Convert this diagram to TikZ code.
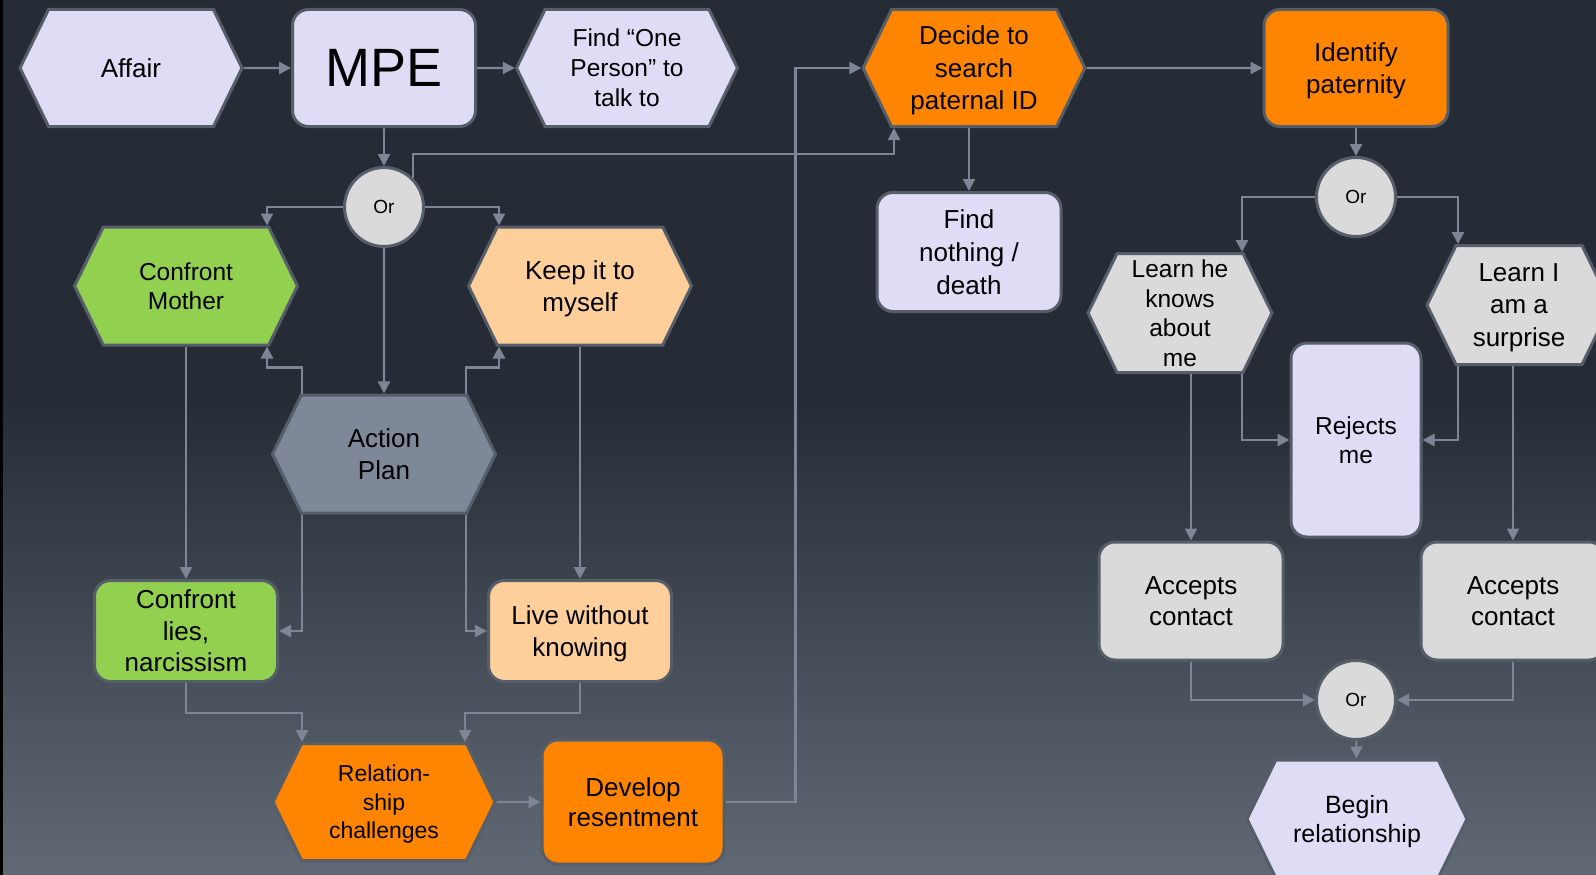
\documentclass[tikz,border=0pt]{standalone}
\usepackage{fontspec}
\setmainfont{Liberation Sans}
\usepackage{tikz}
\usetikzlibrary{arrows.meta}
\usetikzlibrary{shapes.symbols}
\usetikzlibrary{calc}
\definecolor{bgtop}{RGB}{37,44,54}
\definecolor{bgbottom}{RGB}{96,105,116}
\definecolor{edgegray}{RGB}{86,94,106}
\definecolor{linkgray}{RGB}{125,134,148}
\definecolor{lavender}{RGB}{223,221,245}
\definecolor{leafgreen}{RGB}{146,208,80}
\definecolor{peach}{RGB}{254,207,154}
\definecolor{deeporange}{RGB}{255,133,0}
\definecolor{paleg}{RGB}{218,218,218}
\definecolor{slate}{RGB}{127,136,153}
\tikzstyle{box}=[draw=edgegray,line width=3pt,align=center,text=black,inner sep=2pt,text depth=0pt,font=\fontsize{26}{31.5}\selectfont]
\tikzstyle{hexbox}=[box,signal,signal to=west and east,signal pointer angle=128]
\tikzstyle{roundbox}=[box,rectangle,rounded corners=16pt]
\tikzstyle{orgate}=[box,circle,minimum size=79pt,fill=paleg,font=\fontsize{19}{22}\selectfont]
\tikzstyle{link}=[draw=linkgray,line width=2.2pt,-{Triangle[length=12pt,width=12pt]}]

\begin{document}
\begin{tikzpicture}[x=1pt,y=-1pt]
\useasboundingbox (0,0) rectangle (1596,875);
\fill[bgtop] (0,0) rectangle (1596,400);
\shade[top color=bgtop,bottom color=bgbottom] (0,399) rectangle (1596,875);
\fill[black] (0,0) rectangle (2.5,875);

\node [hexbox,fill=lavender,minimum width=222pt,minimum height=117pt] (affair) at (131,68) {Affair};
\node [roundbox,fill=lavender,minimum width=183pt,minimum height=117pt,font=\fontsize{54}{60}\selectfont] (mpe) at (384,68) {MPE};
\node [hexbox,fill=lavender,minimum width=221pt,minimum height=117pt,font=\fontsize{24.5}{30}\selectfont] (findone) at (627,68) {Find “One\\Person” to\\talk to};
\node [hexbox,fill=deeporange,minimum width=222pt,minimum height=117pt,font=\fontsize{26}{32.5}\selectfont] (decide) at (974,68) {Decide to\\search\\paternal ID};
\node [roundbox,fill=deeporange,minimum width=184pt,minimum height=117pt] (identify) at (1356,68) {Identify\\paternity};

\node [orgate] (or1) at (384,207) {Or};
\node [hexbox,fill=leafgreen,minimum width=223pt,minimum height=118pt,font=\fontsize{24.5}{29.5}\selectfont] (cmother) at (186,286) {Confront\\Mother};
\node [hexbox,fill=peach,minimum width=223pt,minimum height=118pt] (keep) at (580,286) {Keep it to\\myself};
\node [hexbox,fill=slate,minimum width=223pt,minimum height=118pt] (action) at (384,454) {Action\\Plan};
\node [roundbox,fill=leafgreen,minimum width=183pt,minimum height=101pt] (clies) at (186,631) {Confront\\lies,\\narcissism};
\node [roundbox,fill=peach,minimum width=183pt,minimum height=101pt] (live) at (580,631) {Live without\\knowing};
\node [hexbox,fill=deeporange,minimum width=222pt,minimum height=117pt,font=\fontsize{23}{28.5}\selectfont] (relat) at (384,802) {Relation-\\ship\\challenges};
\node [roundbox,fill=deeporange,minimum width=182pt,minimum height=124pt,font=\fontsize{26}{30.5}\selectfont] (develop) at (633,802) {Develop\\resentment};

\node [roundbox,fill=lavender,minimum width=184pt,minimum height=119pt,font=\fontsize{26}{33}\selectfont] (nothing) at (969,252) {Find\\nothing /\\death};
\node [orgate] (or2) at (1356,197) {Or};
\node [hexbox,fill=paleg,minimum width=184pt,minimum height=119pt,font=\fontsize{24.5}{29.5}\selectfont] (learnhe) at (1180,313) {Learn he\\knows\\about\\me};
\node [hexbox,fill=paleg,minimum width=184pt,minimum height=119pt,font=\fontsize{26}{32.5}\selectfont] (learni) at (1519,305) {Learn I\\am a\\surprise};
\node [roundbox,fill=lavender,minimum width=130pt,minimum height=194pt,font=\fontsize{24.5}{29.5}\selectfont] (rejects) at (1356,440) {Rejects\\me};
\node [roundbox,fill=paleg,minimum width=184pt,minimum height=118pt] (acceptl) at (1191,601) {Accepts\\contact};
\node [roundbox,fill=paleg,minimum width=184pt,minimum height=118pt] (acceptr) at (1513,601) {Accepts\\contact};
\node [orgate] (or3) at (1356,700) {Or};
\node [hexbox,fill=lavender,minimum width=220pt,minimum height=118pt,font=\fontsize{25}{29.5}\selectfont] (begin) at (1357,819) {Begin\\relationship};

\draw[link] (affair) -- (mpe);
\draw[link] (mpe) -- (findone);
\draw[link] (mpe) -- (or1);
\draw[link] (or1.45) -- ++(0,-24) -| ([xshift=-80pt]decide.south);
\draw[link] (decide) -- (identify);
\draw[link] (decide.south -| nothing.north) -- (nothing);
\draw[link] (or1.west) -| ([xshift=81pt]cmother.north);
\draw[link] (or1.east) -| ([xshift=-81pt]keep.north);
\draw[link] (or1) -- (action);
\draw[link] ([xshift=-82pt]action.north) -- ++(0,-26) -| ([xshift=81pt]cmother.south);
\draw[link] ([xshift=82pt]action.north) -- ++(0,-26) -| ([xshift=-81pt]keep.south);
\draw[link] ([xshift=-82pt]action.south) |- (clies.east);
\draw[link] ([xshift=82pt]action.south) |- (live.west);
\draw[link] (cmother) -- (clies);
\draw[link] (keep) -- (live);
\draw[link] (clies.south) -- ++(0,30) -| ([xshift=-82pt]relat.north);
\draw[link] (live.south) -- ++(0,30) -| ([xshift=81pt]relat.north);
\draw[link] (relat) -- (develop);
\draw[link] (develop.east) -- ++(70,0) |- (decide.west);
\draw[link] (identify) -- (or2);
\draw[link] (or2.west) -| ([xshift=62pt]learnhe.north);
\draw[link] (or2.east) -| ([xshift=-61pt]learni.north);
\draw[link] (acceptl.north |- learnhe.south) -- (acceptl);
\draw[link] ([xshift=62pt]learnhe.south) |- (rejects.west);
\draw[link] ([xshift=-61pt]learni.south) |- (rejects.east);
\draw[link] (acceptr.north |- learni.south) -- (acceptr);
\draw[link] (acceptl.south) |- (or3.west);
\draw[link] (acceptr.south) |- (or3.east);
\draw[link] (or3) -- (begin);
\end{tikzpicture}
\end{document}
